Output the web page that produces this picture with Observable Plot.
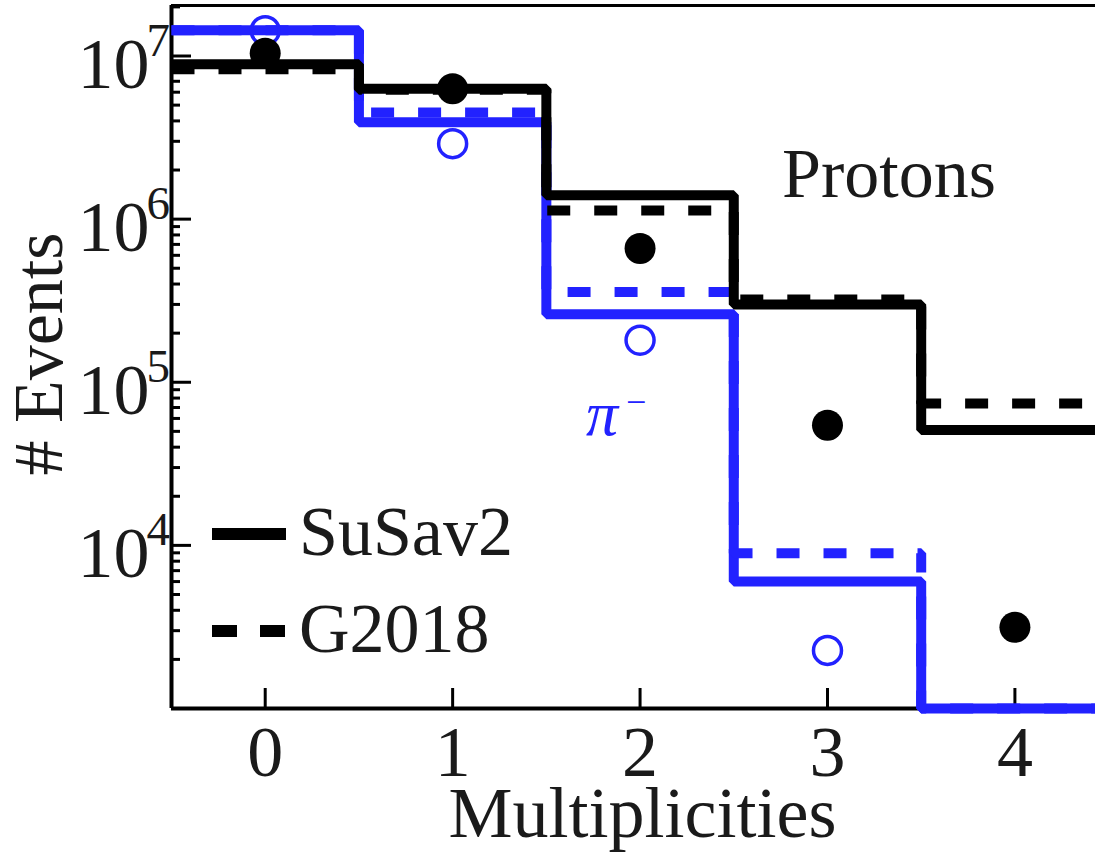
<!DOCTYPE html>
<html><head><meta charset="utf-8">
<script src="https://cdn.jsdelivr.net/npm/d3@7"></script>
<script src="https://cdn.jsdelivr.net/npm/@observablehq/plot@0.6"></script>
<style>
html,body{margin:0;padding:0;overflow:hidden;background:#fff;}
#chart{position:relative;width:1095px;height:852px;overflow:hidden;}
#chart svg{overflow:hidden;}
</style></head><body><div id="chart"></div>
<script>
// ---- data ----
const categories = [0, 1, 2, 3, 4];
const xTickLabels = ["0", "1", "2", "3", "4"];
const protonSuSav2 = [8.9e6, 6.3e6, 1.40e6, 3.0e5, 5.1e4];
const protonG2018  = [8.3e6, 6.2e6, 1.13e6, 3.22e5, 7.4e4];
const pionSuSav2   = [1.44e7, 3.93e6, 2.61e5, 6.0e3, 1.0e3];
const pionG2018    = [1.44e7, 4.5e6, 3.57e5, 8.96e3, 1.0e3];
const protonData   = [1.04e7, 6.3e6, 6.6e5, 5.45e4, 3.15e3];
const pionData     = [1.43e7, 2.9e6, 1.81e5, 2.27e3, null];
const yMajorTicks = [1e4, 1e5, 1e6, 1e7];
const yTickExponents = ["4", "5", "6", "7"];
const legendLabels = ["SuSav2", "G2018"];
const xDomain = [-0.5, 4.43];
const yDomain = [1e3, 2.04e7];

const yMinorTicks = [];
for (let e = 3; e <= 7; e++) for (let m = 2; m <= 9; m++) {
  const v = m * Math.pow(10, e);
  if (v <= yDomain[1]) yMinorTicks.push(v);
}

const FONT = "Liberation Serif, Times New Roman, serif";
const BLUE = "#2222ff";
const BLACK = "#000";
const TEXT = "#1a1a1a";

function steps(values) {
  const pts = categories.map((c, i) => ({x: c - 0.5, y: values[i]}));
  pts.push({x: categories[categories.length - 1] + 0.5, y: values[values.length - 1]});
  return pts;
}
const pts = (vals) => categories.map((c, i) => ({x: c, y: vals[i]})).filter(d => d.y != null);

const lineOpts = {x: "x", y: "y", curve: "step-after", strokeWidth: 10, strokeLinejoin: "miter", strokeLinecap: "butt"};

const chart = Plot.plot({
  width: 1095, height: 852,
  marginLeft: 171, marginRight: 0, marginTop: 5, marginBottom: 144,
  x: {domain: xDomain},
  y: {type: "log", domain: yDomain},
  style: {fontFamily: FONT, background: "#fff", overflow: "hidden"},
  marks: [
    Plot.axisY({ticks: yMinorTicks, anchor: "left", tickSize: -9, strokeWidth: 3, tickFormat: () => "", label: null}),
    Plot.axisY({ticks: yMajorTicks, anchor: "left", tickSize: -20, strokeWidth: 3, tickFormat: () => "", label: null}),
    Plot.axisX({ticks: categories, anchor: "bottom", tickSize: -20, strokeWidth: 3, tickFormat: () => "", label: null}),
    Plot.ruleX([xDomain[0]], {stroke: BLACK, strokeWidth: 4}),
    Plot.ruleY([yDomain[0]], {stroke: BLACK, strokeWidth: 4}),
    Plot.ruleY([yDomain[1]], {stroke: BLACK, strokeWidth: 3}),
    Plot.line(steps(pionSuSav2), {...lineOpts, stroke: BLUE}),
    Plot.line(steps(pionG2018), {...lineOpts, stroke: BLUE, strokeDasharray: "23,24"}),
    Plot.line(steps(protonSuSav2), {...lineOpts, stroke: BLACK}),
    Plot.line(steps(protonG2018), {...lineOpts, stroke: BLACK, strokeDasharray: "23,24"}),
    Plot.dot(pts(pionData), {x: "x", y: "y", r: 14, stroke: BLUE, strokeWidth: 3.5, fill: "none"}),
    Plot.dot(pts(protonData), {x: "x", y: "y", r: 15.5, fill: BLACK, stroke: "none"}),
    Plot.text(yMajorTicks, {y: d => d, frameAnchor: "left", text: () => "10", textAnchor: "end", dx: -22, dy: 31.5, lineAnchor: "bottom", fontSize: 72, fill: TEXT}),
    Plot.text(yMajorTicks, {y: d => d, frameAnchor: "left", text: (d, i) => yTickExponents[i], textAnchor: "start", dx: -25, dy: 0, lineAnchor: "bottom", fontSize: 47, fill: TEXT}),
    Plot.text(categories, {x: d => d, frameAnchor: "bottom", text: (d, i) => xTickLabels[i], dy: 67, lineAnchor: "bottom", fontSize: 72, fill: TEXT}),
    Plot.text(["Multiplicities"], {frameAnchor: "bottom", dx: 9, dy: 128, lineAnchor: "bottom", fontSize: 72, fill: TEXT})
  ]
});
document.getElementById("chart").appendChild(chart);

const svg = d3.select(chart);
const g = svg.append("g").attr("font-family", FONT).attr("fill", TEXT).attr("text-anchor", "start");
g.append("text").attr("transform", "translate(62,354) rotate(-90)")
  .attr("text-anchor", "middle").attr("font-size", 70).text("# Events");
// legend
g.append("line").attr("x1", 212).attr("x2", 286).attr("y1", 534).attr("y2", 534)
  .attr("stroke", BLACK).attr("stroke-width", 12);
g.append("line").attr("x1", 212).attr("x2", 285).attr("y1", 631).attr("y2", 631)
  .attr("stroke", BLACK).attr("stroke-width", 12).attr("stroke-dasharray", "25,23");
g.append("text").attr("x", 299).attr("y", 555).attr("font-size", 70).text(legendLabels[0]);
g.append("text").attr("x", 299).attr("y", 652).attr("font-size", 70).text(legendLabels[1]);
// annotations
g.append("text").attr("x", 782).attr("y", 197).attr("font-size", 70).text("Protons");
g.append("text").attr("x", 586).attr("y", 435).attr("font-size", 64).attr("font-style", "italic").attr("fill", BLUE).text("π");
g.append("text").attr("x", 626).attr("y", 414).attr("font-size", 36).attr("fill", BLUE).text("−");
</script></body></html>
